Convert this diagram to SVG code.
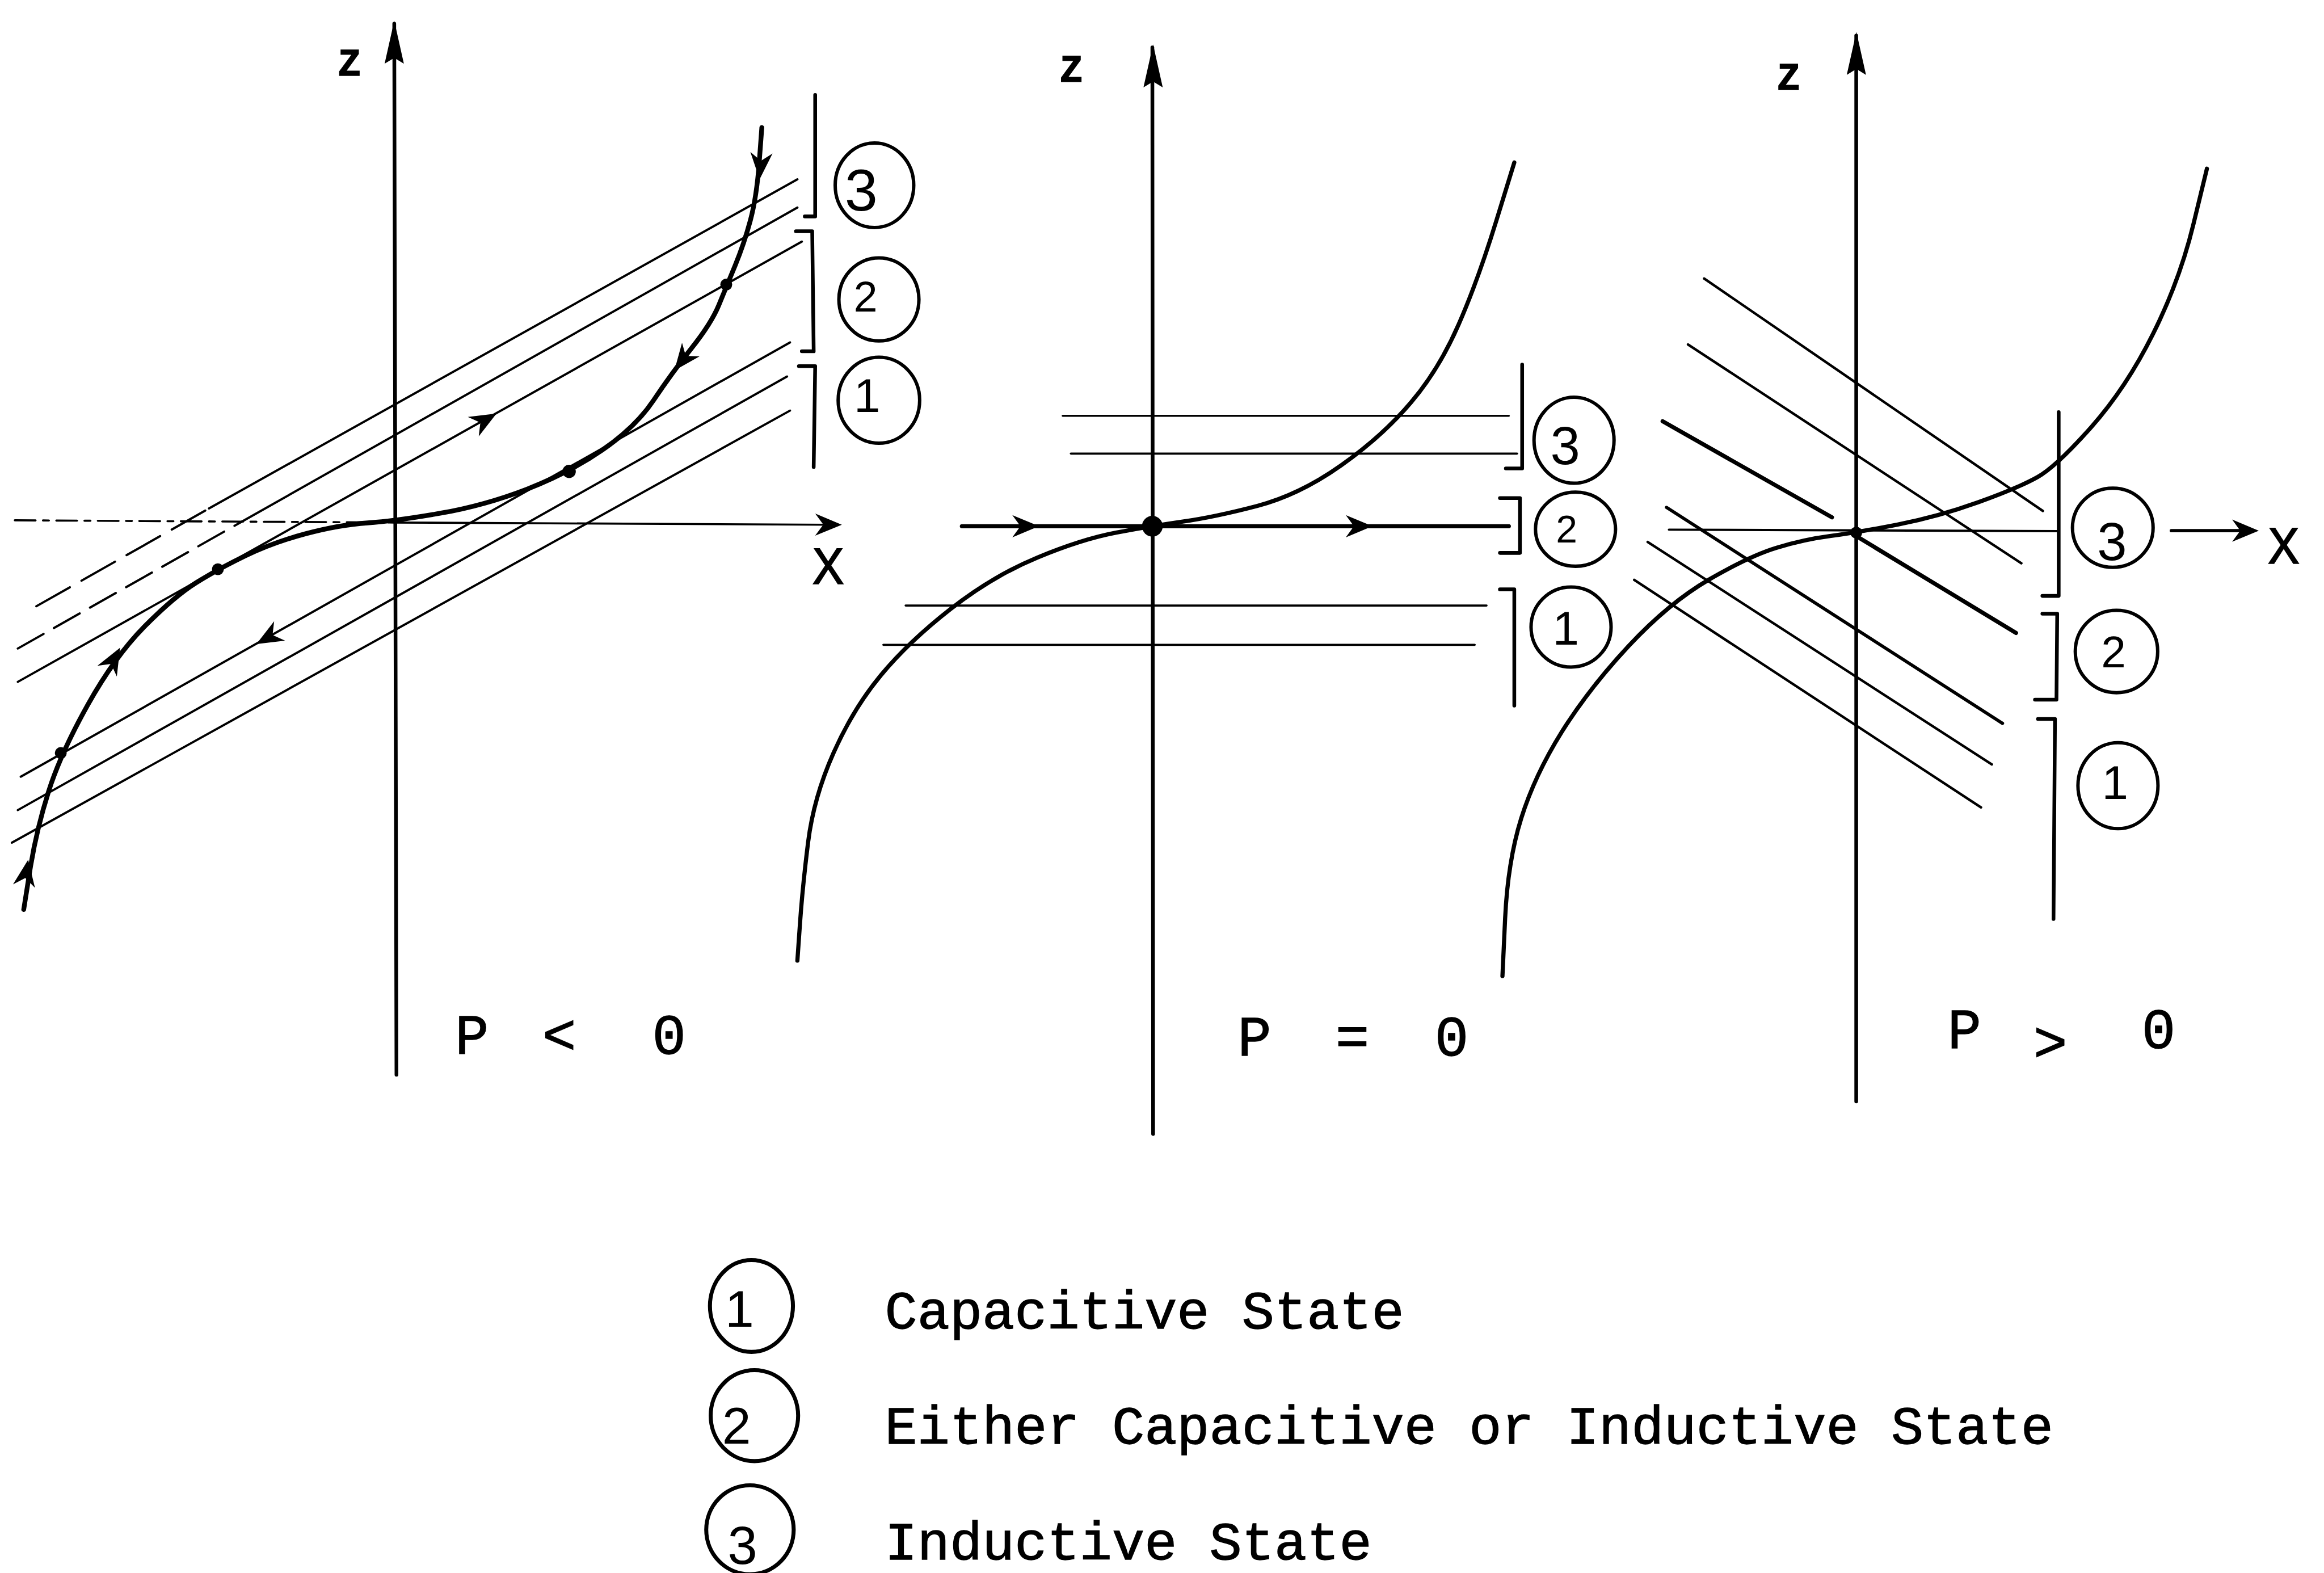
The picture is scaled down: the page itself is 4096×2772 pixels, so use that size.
<svg xmlns="http://www.w3.org/2000/svg" xmlns:xlink="http://www.w3.org/1999/xlink" width="4096" height="2772" viewBox="0 0 4096 2772">
<style>
.s{fill:none;stroke:#000;stroke-linecap:round;stroke-linejoin:round}
.ax{stroke-width:2.5}
.cv{stroke-width:2.8}
.ln{stroke-width:1.5}
.th{stroke-width:2.8}
.br{stroke-width:2.5}
.ci{fill:none;stroke:#000;stroke-width:2.3}
.lc{fill:none;stroke:#000;stroke-width:2.7}
.tw{font-family:"Liberation Mono","Courier New",monospace;fill:#000;stroke:#000;stroke-width:0.5}
.dg{font-family:"Liberation Sans",Arial,sans-serif;fill:#000;text-anchor:middle}
.hd{fill:#000;stroke:none}
</style>
<defs>
<path id="ah" d="M0,0 L-18,-7.5 L-12.5,0 L-18,7.5 Z"/>
<path id="zh" d="M0,0 L-29,-6.5 L-25,0 L-29,6.5 Z"/>
</defs>
<rect width="4096" height="2772" fill="#fff"/>
<g transform="scale(2.61224)">

<g id="panel-p-neg">
  <path class="s ax" d="M266,16 L267.5,725"/>
  <use href="#zh" class="hd" transform="translate(266,14) rotate(-90)"/>
  <text class="tw" x="228" y="51" font-size="26" font-weight="bold">Z</text>
  <path class="s" stroke-width="1.4" stroke-dasharray="14 5 4 5" d="M10,351 L266,352.5"/>
  <path class="s" stroke-width="1.4" d="M266,352.5 L560,354"/>
  <use href="#ah" class="hd" transform="translate(568,354) rotate(0.3)"/>
  <text class="tw" x="548" y="394" font-size="36">X</text>
  <!-- diagonal lines -->
  <path class="s ln" stroke-dasharray="26 9" d="M24.5,409 L141,343"/>
  <path class="s ln" d="M141,343 L538,121"/>
  <path class="s ln" stroke-dasharray="20 8" d="M12,437.5 L163,352"/>
  <path class="s ln" d="M163,352 L538,140"/>
  <path class="s ln" d="M12,460 L541,163"/>
  <path class="s ln" d="M14,524 L533,231"/>
  <path class="s ln" d="M12,546.5 L531,254"/>
  <path class="s ln" d="M8,568.5 L533,277"/>
  <use href="#ah" class="hd" transform="translate(335,279) rotate(-29.4)"/>
  <use href="#ah" class="hd" transform="translate(173,434.5) rotate(150.5)"/>
  <!-- curve -->
  <path class="s" stroke-width="3.2" d="M16,613.6 L20.25,586.8 Q24.5,560 32.75,534 Q41,508 59.3,475.35 Q77.6,442.7 97.8,422.35 Q118,402 132.5,393 Q147,384 165.5,375 Q184,366 206.5,360 Q229,354 248,352.75 Q267,351.5 297,346.25 Q327,341 355.5,330 Q384,319 406.5,303.5 Q429,288 441,270 Q453,252 466.5,235 Q480,218 485,205.8 Q490,193.6 496,179.1 Q502,164.6 506.25,148.8 Q510.5,133 512.25,109.5 L514,86"/>
  <use href="#ah" class="hd" transform="translate(512.5,121) rotate(94)"/>
  <use href="#ah" class="hd" transform="translate(455,250) rotate(128)"/>
  <use href="#ah" class="hd" transform="translate(81,437) rotate(-61)"/>
  <use href="#ah" class="hd" transform="translate(19,580) rotate(-81)"/>
  <circle class="hd" cx="41" cy="508" r="4"/>
  <circle class="hd" cx="147" cy="384" r="4"/>
  <circle class="hd" cx="384" cy="318" r="4.5"/>
  <circle class="hd" cx="490" cy="192" r="4"/>
  <!-- brackets -->
  <path class="s br" d="M550,64 L550,146 L543,146"/>
  <path class="s br" d="M537,156 L548,156 L549,237 L541,237"/>
  <path class="s br" d="M539,247 L550,247 L549,315"/>
  <ellipse class="ci" cx="590" cy="125" rx="26.5" ry="28.5"/>
  <ellipse class="ci" cx="593" cy="202" rx="27" ry="28"/>
  <ellipse class="ci" cx="593" cy="270" rx="27.5" ry="29"/>
  <text class="dg" x="581" y="142" font-size="40">3</text>
  <text class="dg" x="584" y="210" font-size="29">2</text>
  <text class="dg" x="585" y="278" font-size="32">1</text>
  <text class="tw" y="711" font-size="38"><tspan x="307">P </tspan><tspan x="366">&lt; </tspan><tspan x="440">0</tspan></text>
</g>

<g id="panel-p-zero">
  <path class="s ax" d="M777.5,32 L778,765"/>
  <use href="#zh" class="hd" transform="translate(778,30) rotate(-90)"/>
  <text class="tw" x="715" y="55" font-size="26" font-weight="bold">Z</text>
  <path class="s" stroke-width="1.4" d="M717,280.5 L1018,280.5"/>
  <path class="s" stroke-width="1.4" d="M722.5,306 L1023.6,306"/>
  <path class="s th" d="M649,355 L1018,355"/>
  <path class="s" stroke-width="1.4" d="M611,408.5 L1003,408.5"/>
  <path class="s" stroke-width="1.4" d="M596,435 L995,435"/>
  <use href="#ah" class="hd" transform="translate(701,355)"/>
  <use href="#ah" class="hd" transform="translate(926,355)"/>
  <path class="s cv" d="M538,648 L539.75,623 Q541.5,598 545.25,568 Q549,538 562.35,508 Q575.7,478 594.35,455.5 Q613,433 641.4,410.8 Q669.8,388.6 699.9,376.15 Q730,363.7 753,359.35 Q776,355 798,351.85 Q820,348.7 848.4,341.25 Q876.8,333.8 904.9,313.9 Q933,294 952,271.5 Q971,249 984.1,219 Q997.2,189 1009.45,149.3 L1021.7,109.6"/>
  <circle class="hd" cx="777.5" cy="355" r="7"/>
  <path class="s br" d="M1027,246 L1027,316 L1016,316"/>
  <path class="s br" d="M1012,336 L1025.5,336 L1025.5,373 L1012,373"/>
  <path class="s br" d="M1012,397.6 L1021.7,397.6 L1021.7,476"/>
  <ellipse class="ci" cx="1062" cy="297" rx="27" ry="29"/>
  <ellipse class="ci" cx="1063" cy="357" rx="27" ry="25"/>
  <ellipse class="ci" cx="1060" cy="423" rx="27" ry="27"/>
  <text class="dg" x="1056" y="313" font-size="36">3</text>
  <text class="dg" x="1057" y="366" font-size="26">2</text>
  <text class="dg" x="1056.5" y="435" font-size="32">1</text>
  <text class="tw" y="712" font-size="38"><tspan x="835">P </tspan><tspan x="901">= </tspan><tspan x="968">0</tspan></text>
</g>

<g id="panel-p-pos">
  <path class="s ax" d="M1252.4,24 L1252.4,743"/>
  <use href="#zh" class="hd" transform="translate(1252.5,21.5) rotate(-90)"/>
  <text class="tw" x="1199" y="60.5" font-size="26" font-weight="bold">Z</text>
  <path class="s" stroke-width="1.5" d="M1126,357.3 L1389,358.3"/>
  <path class="s" stroke-width="2.2" d="M1465,358 L1512,358"/>
  <use href="#ah" class="hd" transform="translate(1524,358)"/>
  <text class="tw" x="1530" y="380" font-size="36">X</text>
  <path class="s" stroke-width="1.7" d="M1149.8,187.9 L1378.3,344.7"/>
  <path class="s" stroke-width="1.7" d="M1138.9,232.4 L1363.8,380"/>
  <path class="s th" d="M1121.8,284.2 L1236,349"/>
  <path class="s th" d="M1253,362 L1360.2,427"/>
  <path class="s" stroke-width="2.2" d="M1124.4,342.3 L1351.1,488"/>
  <path class="s" stroke-width="1.7" d="M1111.7,365.6 L1343.9,515.7"/>
  <path class="s" stroke-width="1.7" d="M1102.6,391.2 L1336.6,544.7"/>
  <path class="s cv" d="M1013.7,658.5 L1015.5,619.75 Q1017.3,581 1026.4,552 Q1035.5,523 1053.65,493.9 Q1071.8,464.8 1098.9,435.75 Q1126,406.7 1153.3,390.85 Q1180.6,375 1198.75,369.5 Q1216.9,364 1234.65,361.65 Q1252.4,359.3 1280,353.95 Q1307.6,348.6 1334.8,338.8 Q1362,329 1374.7,321.85 Q1387.4,314.7 1411,288.1 Q1434.6,261.5 1452.7,225.15 Q1470.8,188.8 1479.9,151.3 L1489,113.8"/>
  <circle class="hd" cx="1252.4" cy="359.3" r="4"/>
  <path class="s br" d="M1389,278 L1389,402 L1378,402"/>
  <path class="s br" d="M1378,414 L1388,414 L1387.5,472 L1373,472"/>
  <path class="s br" d="M1375,485 L1386.5,485 L1385.5,620"/>
  <ellipse class="ci" cx="1425.5" cy="356" rx="27.2" ry="26.7"/>
  <ellipse class="ci" cx="1428" cy="439.5" rx="27.8" ry="27.8"/>
  <ellipse class="ci" cx="1429" cy="530" rx="27" ry="29"/>
  <text class="dg" x="1425" y="378" font-size="36">3</text>
  <text class="dg" x="1426" y="450" font-size="30">2</text>
  <text class="dg" x="1427" y="539" font-size="32">1</text>
  <text class="tw" y="707" font-size="38"><tspan x="1314">P </tspan><tspan x="1372" dy="9">&gt; </tspan><tspan x="1445" dy="-9">0</tspan></text>
</g>

<g id="legend">
  <ellipse class="lc" cx="507" cy="881" rx="28" ry="31"/>
  <text class="dg" x="499" y="895" font-size="35">1</text>
  <text class="tw" x="597" y="896" font-size="36.5">Capacitive State</text>
  <ellipse class="lc" cx="509" cy="955" rx="29.5" ry="30.7"/>
  <text class="dg" x="497" y="974" font-size="35">2</text>
  <text class="tw" x="597" y="974" font-size="36.5">Either Capacitive or Inductive State</text>
  <ellipse class="lc" cx="506" cy="1032" rx="29.5" ry="30"/>
  <text class="dg" x="501" y="1055" font-size="36">3</text>
  <text class="tw" x="597" y="1052" font-size="36.5">Inductive State</text>
</g>

</g>
</svg>
